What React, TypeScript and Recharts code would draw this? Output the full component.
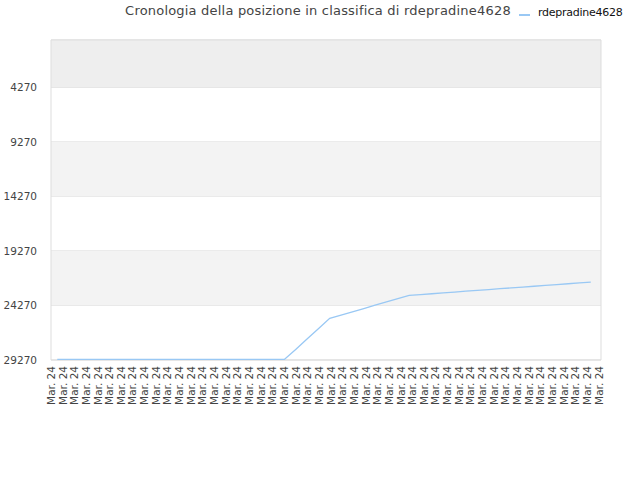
import React from "react";
import {
  CartesianGrid, Line, LineChart, ReferenceArea, XAxis, YAxis,
} from "recharts";

// rank history, one point per day (lower is better, axis reversed)
const ranks = [
  29220, 29220, 29220, 29220, 29220, 29220, 29220, 29220, 29220, 29220,
  29220, 29220, 29220, 29220, 29220, 29220, 29220, 29220, 29220, 29220,
  29220, 28300, 27350, 26400, 25450, 25150, 24850, 24550, 24250, 23950,
  23650, 23345, 23270, 23195, 23120, 23040, 22965, 22890, 22810, 22735,
  22660, 22585, 22510, 22430, 22355, 22280, 22205, 22127,
];
const dayLabels = Array(48).fill("Mar. 24");
const rankTicks = [4270, 9270, 14270, 19270, 24270, 29270];
const bands = [[-66, 4270, "#eeeeee"], [9270, 14270, "#f3f3f3"], [19270, 24270, "#f3f3f3"]] as const;

const player = "rdepradine4628";
const data = ranks.map((v, i) => ({ i, v }));

const X_MIN = -0.555;
const X_MAX = 47.9;
const labelTicks = dayLabels.map((_, j) => X_MIN + 0.02 + j * ((X_MAX - X_MIN - 0.2) / (dayLabels.length - 1)));

const font = "'DejaVu Sans', sans-serif";

const DayTick = ({ x, y, index }: any) => (
  <text x={x} y={y - 2} transform={`rotate(-90 ${x} ${y - 2})`} textAnchor="end" dy="0.35em"
        fontSize={10.5} fill="#444" fontFamily={font}>
    {dayLabels[index]}
  </text>
);

export default function App() {
  return (
    <div style={{ position: "absolute", left: 0, top: 0, width: 640, height: 480, background: "#fff", fontFamily: font }}>
      <div style={{ position: "absolute", left: 0, width: 636, top: 3, textAlign: "center", fontSize: 13, color: "#444", letterSpacing: 0.2 }}>
        Cronologia della posizione in classifica di {player}
      </div>
      <div style={{ position: "absolute", left: 519, top: 14, width: 11, height: 2, background: "#99c8f4" }} />
      <div style={{ position: "absolute", left: 538, top: 6, fontSize: 11, color: "#111", letterSpacing: -0.25 }}>
        {player}
      </div>
      <LineChart width={640} height={480} data={data} margin={{ top: 40, right: 39, left: 0, bottom: 0 }}>
        {bands.map(([a, b, c]) => (
          <ReferenceArea key={a} y1={a} y2={b} x1={X_MIN} x2={X_MAX} fill={c} fillOpacity={1} stroke="none" />
        ))}
        <CartesianGrid vertical={false} stroke="#dddddd" />
        <ReferenceArea y1={-66} y2={29270} x1={X_MIN} x2={X_MAX} fill="none" stroke="#dddddd" />
        <XAxis dataKey="i" type="number" domain={[X_MIN, X_MAX]} allowDataOverflow ticks={labelTicks}
               interval={0} tick={<DayTick />} tickLine={false} axisLine={false} height={120} />
        <YAxis type="number" reversed domain={[-66, 29270]} allowDataOverflow ticks={rankTicks} interval={0}
               width={51} tickLine={false} axisLine={false} tickMargin={8}
               tick={{ fontSize: 10.5, fill: "#444", fontFamily: font }} />
        <Line isAnimationActive={false} type="linear" dataKey="v" stroke="#99c8f4" strokeWidth={1.3}
              dot={false} activeDot={false} />
      </LineChart>
    </div>
  );
}
